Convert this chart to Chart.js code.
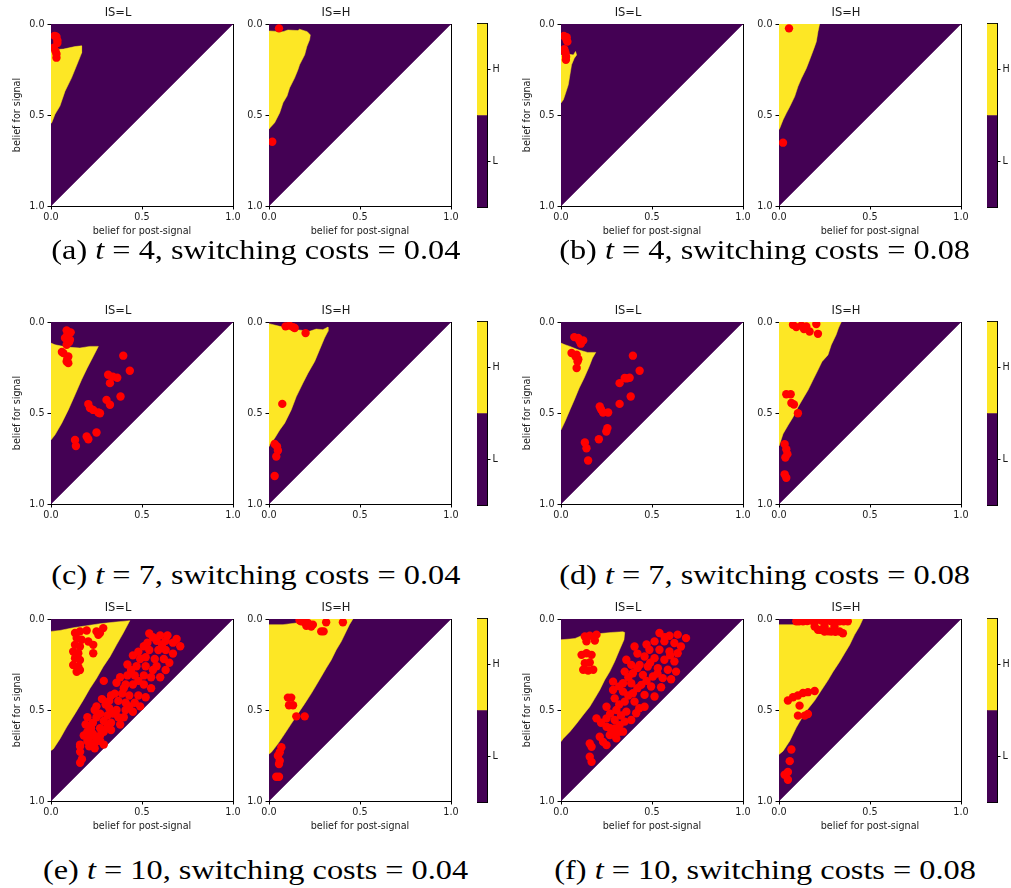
<!DOCTYPE html>
<html>
<head>
<meta charset="utf-8">
<script src="https://cdn.jsdelivr.net/npm/chart.js@4.4.1/dist/chart.umd.min.js"></script>
<style>
  body { margin: 0; background: #fff; width: 1011px; height: 888px; overflow: hidden; position: relative; }
  canvas { position: absolute; }
  .caption { position: absolute; font-family: "Liberation Serif", serif; font-size: 27px; line-height: 27px;
             white-space: nowrap; color: #000; transform-origin: center center; }
</style>
</head>
<body>
<script>
// axis ticks and labels
const beliefTicks = [0, 0.5, 1];
const beliefTickLabels = ['0.0', '0.5', '1.0'];
const stateTitles = ['IS=L', 'IS=H'];
const colorLevels = ['L', 'H'];
const captionLetters = ['a', 'b', 'c', 'd', 'e', 'f'];
const captionPeriods = [4, 4, 7, 7, 10, 10];
const captionCosts = ['0.04', '0.08', '0.04', '0.08', '0.04', '0.08'];

// belief space: [post-signal belief, signal belief]
const beliefTriangle = [[0, 0], [1, 0], [0, 1]];

// (a) t=4, cost 0.04
const aRegionL = [[0,0.142],[0.068,0.138],[0.132,0.124],[0.168,0.12],[0.168,0.16],[0.15,0.205],[0.113,0.296],[0.077,0.369],[0.049,0.451],[0.022,0.496],[0.004,0.542],[0,0.545]];
const aPointsL = [[0.02,0.065],[0.03,0.07],[0.035,0.09],[0.035,0.105],[0.015,0.13],[0.025,0.15],[0.03,0.165],[0.03,0.185]];
const aRegionH = [[0,0.038],[0.077,0.042],[0.104,0.033],[0.159,0.036],[0.168,0.029],[0.21,0.042],[0.227,0.06],[0.223,0.087],[0.208,0.124],[0.196,0.169],[0.168,0.224],[0.159,0.251],[0.141,0.296],[0.113,0.351],[0.099,0.396],[0.077,0.433],[0.059,0.487],[0.031,0.542],[0.007,0.569],[0,0.578]];
const aPointsH = [[0.055,0.024],[0.018,0.647]];

// (b) t=4, cost 0.08
const bRegionL = [[0,0.17],[0.031,0.164],[0.068,0.17],[0.08,0.151],[0.086,0.17],[0.073,0.188],[0.058,0.224],[0.049,0.279],[0.04,0.334],[0.025,0.38],[0.013,0.416],[0,0.434]];
const bPointsL = [[0.016,0.066],[0.031,0.073],[0.03,0.085],[0.035,0.097],[0.018,0.139],[0.02,0.15],[0.025,0.161],[0.028,0.18],[0.027,0.197]];
const bRegionH = [[0,0],[0.223,0],[0.214,0.042],[0.205,0.097],[0.192,0.134],[0.168,0.198],[0.15,0.244],[0.123,0.299],[0.104,0.344],[0.086,0.399],[0.059,0.454],[0.04,0.491],[0.022,0.527],[0.004,0.573],[0,0.579]];
const bPointsH = [[0.055,0.024],[0.022,0.652]];

// (c) t=7, cost 0.04
const cRegionL = [[0,0.116],[0.022,0.125],[0.086,0.138],[0.159,0.143],[0.214,0.134],[0.26,0.134],[0.232,0.189],[0.199,0.253],[0.168,0.317],[0.132,0.4],[0.095,0.483],[0.059,0.556],[0.022,0.62],[0,0.648]];
const cPointsL = [[0.086,0.046],[0.108,0.057],[0.09,0.07],[0.077,0.088],[0.104,0.097],[0.1,0.11],[0.086,0.125],[0.068,0.171],[0.06,0.165],[0.095,0.189],[0.09,0.2],[0.086,0.217],[0.095,0.226],
  [0.397,0.185],[0.433,0.268],[0.314,0.29],[0.34,0.3],[0.364,0.306],[0.324,0.336],[0.305,0.428],[0.324,0.455],[0.382,0.409],[0.205,0.451],[0.214,0.473],[0.232,0.483],[0.26,0.497],[0.269,0.501],[0.25,0.607],[0.132,0.648],[0.137,0.681],[0.196,0.629],[0.205,0.644]];
const cRegionH = [[0,0.009],[0.059,0.024],[0.15,0.042],[0.223,0.051],[0.259,0.039],[0.296,0.042],[0.324,0.028],[0.324,0.051],[0.305,0.088],[0.278,0.152],[0.251,0.217],[0.214,0.281],[0.186,0.336],[0.15,0.41],[0.122,0.483],[0.086,0.556],[0.059,0.593],[0.031,0.639],[0.004,0.675],[0,0.684]];
const cPointsH = [[0.091,0.024],[0.113,0.02],[0.132,0.028],[0.141,0.033],[0.201,0.061],[0.073,0.45],[0.031,0.67],[0.044,0.684],[0.049,0.706],[0.04,0.739],[0.031,0.846]];

// (d) t=7, cost 0.08
const dRegionL = [[0,0.116],[0.022,0.125],[0.049,0.134],[0.095,0.153],[0.146,0.167],[0.191,0.167],[0.173,0.198],[0.155,0.244],[0.127,0.308],[0.1,0.363],[0.073,0.428],[0.049,0.483],[0.022,0.547],[0,0.593]];
const dPointsL = [[0.073,0.083],[0.095,0.088],[0.1,0.1],[0.122,0.101],[0.109,0.119],[0.058,0.17],[0.086,0.18],[0.08,0.19],[0.095,0.204],[0.091,0.217],[0.086,0.253],
  [0.395,0.185],[0.432,0.268],[0.35,0.308],[0.36,0.31],[0.322,0.336],[0.377,0.306],[0.383,0.409],[0.322,0.45],[0.213,0.464],[0.22,0.48],[0.231,0.497],[0.259,0.497],[0.255,0.583],[0.249,0.602],[0.208,0.644],[0.131,0.662],[0.14,0.694],[0.149,0.761]];
const dRegionH = [[0,0],[0.342,0],[0.327,0.033],[0.314,0.07],[0.287,0.126],[0.269,0.181],[0.236,0.218],[0.214,0.264],[0.186,0.32],[0.159,0.375],[0.137,0.412],[0.104,0.468],[0.077,0.523],[0.049,0.569],[0.022,0.615],[0.004,0.671],[0,0.68]];
const dPointsH = [[0.077,0.015],[0.095,0.028],[0.123,0.02],[0.15,0.024],[0.137,0.039],[0.168,0.052],[0.205,0.011],[0.214,0.065],[0.04,0.397],[0.064,0.397],[0.068,0.445],[0.082,0.453],[0.104,0.501],[0.031,0.671],[0.04,0.699],[0.046,0.726],[0.035,0.745],[0.031,0.837],[0.04,0.856]];

// (e) t=10, cost 0.04
const eRegionL = [[0,0.068],[0.049,0.063],[0.123,0.048],[0.196,0.037],[0.269,0.026],[0.342,0.018],[0.433,0.009],[0.397,0.077],[0.36,0.142],[0.324,0.207],[0.287,0.262],[0.25,0.327],[0.214,0.382],[0.177,0.446],[0.132,0.52],[0.086,0.594],[0.049,0.659],[0.013,0.714],[0,0.723]];
const ePointsL = [[0.132,0.077],[0.159,0.068],[0.196,0.063],[0.141,0.105],[0.168,0.114],[0.132,0.142],[0.159,0.151],[0.122,0.179],[0.15,0.188],[0.132,0.216],[0.159,0.225],[0.122,0.253],[0.15,0.262],[0.141,0.29],[0.159,0.28],[0.25,0.068],[0.26,0.087],[0.287,0.05],[0.269,0.077],[0.232,0.142],[0.232,0.188],[0.205,0.124],
  [0.54,0.08],[0.60,0.09],[0.64,0.09],[0.69,0.11],[0.71,0.15],[0.67,0.13],[0.63,0.12],[0.58,0.12],[0.53,0.13],[0.51,0.15],[0.54,0.17],[0.59,0.17],[0.63,0.17],[0.67,0.19],[0.65,0.24],[0.62,0.22],[0.57,0.22],[0.52,0.21],[0.49,0.22],[0.45,0.20],[0.42,0.25],[0.47,0.26],[0.52,0.26],[0.58,0.26],[0.63,0.28],[0.60,0.32],[0.55,0.32],[0.51,0.31],[0.46,0.31],[0.42,0.31],[0.38,0.32],[0.36,0.35],[0.41,0.36],[0.45,0.36],[0.51,0.36],[0.55,0.38],[0.52,0.43],[0.48,0.42],[0.43,0.42],[0.39,0.41],[0.35,0.41],[0.32,0.45],[0.37,0.45],[0.41,0.46],[0.46,0.46],[0.49,0.48],[0.45,0.51],[0.41,0.50],[0.36,0.50],[0.32,0.49],[0.29,0.34],[0.28,0.44],[0.25,0.48],[0.27,0.52],[0.31,0.53],[0.37,0.54],[0.40,0.54],[0.38,0.58],[0.33,0.57],[0.29,0.56],[0.25,0.54],[0.24,0.50],[0.20,0.54],[0.22,0.60],[0.27,0.60],[0.31,0.59],[0.27,0.64],[0.23,0.63],[0.20,0.62],[0.27,0.67],[0.29,0.69],[0.24,0.68],[0.20,0.67],[0.18,0.64],[0.21,0.70],[0.24,0.71],[0.16,0.69],[0.16,0.70],[0.16,0.73],[0.17,0.77],[0.16,0.79],[0.21,0.65],[0.20,0.63],[0.33,0.61],
  [0.56,0.10],[0.61,0.14],[0.48,0.18],[0.56,0.28],[0.44,0.28],[0.48,0.34],[0.40,0.38],[0.33,0.42],[0.30,0.47],[0.43,0.48],[0.34,0.52],[0.29,0.62],[0.25,0.66],[0.23,0.57],[0.19,0.58]];
const eRegionH = [[0,0.031],[0.077,0.031],[0.15,0.022],[0.168,0],[0.461,0],[0.442,0.031],[0.424,0.068],[0.397,0.124],[0.369,0.17],[0.342,0.225],[0.314,0.271],[0.287,0.317],[0.26,0.363],[0.232,0.41],[0.196,0.465],[0.159,0.52],[0.122,0.576],[0.086,0.631],[0.049,0.686],[0.013,0.732],[0,0.742]];
const ePointsH = [[0.168,0.007],[0.177,0.013],[0.196,0.018],[0.214,0.022],[0.205,0.037],[0.232,0.041],[0.241,0.031],[0.287,0.068],[0.3,0.068],[0.314,0.018],[0.406,0.018],
  [0.104,0.432],[0.122,0.432],[0.11,0.474],[0.132,0.474],[0.15,0.535],[0.196,0.535],
  [0.068,0.705],[0.059,0.732],[0.049,0.751],[0.059,0.779],[0.055,0.797],[0.04,0.867],[0.055,0.867]];

// (f) t=10, cost 0.08
const fRegionL = [[0,0.114],[0.049,0.11],[0.077,0.107],[0.113,0.092],[0.186,0.083],[0.277,0.074],[0.34,0.07],[0.35,0.074],[0.346,0.114],[0.322,0.169],[0.295,0.233],[0.268,0.289],[0.24,0.335],[0.213,0.39],[0.186,0.436],[0.158,0.482],[0.122,0.527],[0.086,0.574],[0.049,0.619],[0.013,0.656],[0,0.674]];
const fPointsL = [[0.131,0.096],[0.158,0.092],[0.195,0.086],[0.14,0.123],[0.186,0.118],[0.113,0.197],[0.14,0.188],[0.168,0.197],[0.131,0.243],[0.158,0.239],[0.122,0.279],[0.149,0.283],[0.177,0.279],
  [0.541,0.077],[0.596,0.092],[0.641,0.086],[0.687,0.105],[0.514,0.123],[0.568,0.123],[0.623,0.132],[0.659,0.151],[0.404,0.151],[0.486,0.169],[0.541,0.169],[0.596,0.178],[0.641,0.188],[0.459,0.206],[0.514,0.215],[0.568,0.224],[0.623,0.233],[0.359,0.224],[0.386,0.252],[0.432,0.252],[0.477,0.261],[0.532,0.27],[0.587,0.279],[0.632,0.289],[0.35,0.289],[0.395,0.298],[0.45,0.307],[0.505,0.316],[0.559,0.325],[0.605,0.331],[0.286,0.344],[0.341,0.353],[0.386,0.353],[0.441,0.362],[0.495,0.371],[0.55,0.375],[0.286,0.39],[0.341,0.399],[0.395,0.408],[0.459,0.417],[0.514,0.426],[0.295,0.436],[0.35,0.454],[0.404,0.454],[0.459,0.482],[0.25,0.482],[0.304,0.5],[0.359,0.509],[0.413,0.518],[0.195,0.546],[0.25,0.546],[0.295,0.555],[0.35,0.564],[0.386,0.555],[0.25,0.592],[0.295,0.601],[0.341,0.619],[0.268,0.638],[0.304,0.656],[0.213,0.647],[0.231,0.675],[0.25,0.693],[0.158,0.684],[0.168,0.702],[0.158,0.757],[0.168,0.785],[0.286,0.629],[0.322,0.583],
  [0.57,0.1],[0.47,0.14],[0.42,0.19],[0.6,0.2],[0.49,0.24],[0.42,0.27],[0.53,0.3],[0.37,0.32],[0.47,0.34],[0.32,0.37],[0.42,0.38],[0.37,0.42],[0.32,0.47],[0.43,0.49],[0.27,0.52],[0.33,0.53],[0.32,0.62],[0.27,0.6],[0.22,0.57]];
const fRegionH = [[0,0.031],[0.077,0.031],[0.082,0],[0.461,0],[0.442,0.041],[0.415,0.087],[0.388,0.143],[0.36,0.189],[0.333,0.235],[0.296,0.291],[0.269,0.337],[0.232,0.393],[0.196,0.448],[0.159,0.494],[0.122,0.55],[0.095,0.596],[0.059,0.67],[0.022,0.726],[0,0.744]];
const fPointsH = [[0.095,0.013],[0.11,0.012],[0.132,0.013],[0.155,0.011],[0.177,0.009],[0.2,0.01],[0.232,0.009],[0.26,0.01],[0.287,0.013],[0.31,0.012],[0.333,0.013],[0.355,0.013],[0.378,0.013],
  [0.196,0.041],[0.25,0.04],[0.305,0.041],[0.214,0.059],[0.23,0.06],[0.25,0.069],[0.27,0.068],[0.287,0.069],[0.31,0.07],[0.333,0.069],[0.351,0.078],
  [0.049,0.448],[0.077,0.43],[0.104,0.42],[0.132,0.407],[0.159,0.402],[0.196,0.396],[0.113,0.476],[0.104,0.531],[0.141,0.531],[0.159,0.522],
  [0.068,0.717],[0.059,0.781],[0.049,0.841],[0.031,0.856],[0.049,0.883]];

const viridisDark = '#440154';
const viridisLight = '#fde725';
const inkColor = '#1a1a1a';

Chart.defaults.font.family = '"DejaVu Sans", sans-serif';
Chart.defaults.color = inkColor;

function toXY(pairs) {
  return pairs.map(p => ({ x: p[0], y: p[1] }));
}

function addCanvas(left, top, w, h) {
  const c = document.createElement('canvas');
  c.width = w;
  c.height = h;
  c.style.left = left + 'px';
  c.style.top = top + 'px';
  c.style.width = w + 'px';
  c.style.height = h + 'px';
  document.body.appendChild(c);
  return c.getContext('2d');
}

function beliefAxis(position, label, showLabel) {
  const vertical = position === 'left';
  return {
    type: 'linear',
    position: position,
    reverse: vertical,
    min: 0,
    max: 1,
    afterBuildTicks: s => { s.ticks = beliefTicks.map(v => ({ value: v })); },
    afterFit: s => { if (vertical) s.width = 48; else s.height = 32; },
    ticks: {
      callback: (v, i) => beliefTickLabels[i],
      font: { size: 9.6 },
      padding: vertical ? 3 : 2,
      maxRotation: 0,
      autoSkip: false,
      color: inkColor
    },
    grid: { drawOnChartArea: false, drawTicks: true, tickLength: 3.5, tickColor: '#000', tickWidth: 1 },
    border: { display: true, color: '#000', width: 1 },
    title: {
      display: showLabel,
      text: label,
      color: inkColor,
      font: { size: 9.6 },
      padding: vertical ? { top: 9, bottom: 0 } : { top: 0, bottom: 1 }
    }
  };
}

function frameAxis(position) {
  return {
    type: 'linear',
    position: position,
    min: 0,
    max: 1,
    ticks: { display: false },
    grid: { display: false, drawTicks: false },
    border: { display: true, color: '#000', width: 1 },
    afterFit: s => { if (s.isHorizontal()) s.height = 0; else s.width = 0; }
  };
}

function beliefPlot(plotLeft, plotTop, title, region, points, showYLabel, showXLabel) {
  const ctx = addCanvas(plotLeft - 48, plotTop - 18, 242, 232);
  new Chart(ctx, {
    type: 'scatter',
    data: {
      datasets: [
        { data: toXY(points), backgroundColor: '#ff0000', pointRadius: 4.2, borderWidth: 0, clip: 0, order: 0 },
        { data: toXY(region), showLine: true, fill: 'shape', backgroundColor: viridisLight, borderColor: viridisLight,
          borderWidth: 0.5, pointRadius: 0, order: 1 },
        { data: toXY(beliefTriangle), showLine: true, fill: 'shape', backgroundColor: viridisDark, borderColor: viridisDark,
          borderWidth: 0.5, pointRadius: 0, order: 2 }
      ]
    },
    options: {
      responsive: false,
      animation: false,
      events: [],
      layout: { padding: { left: 0, top: 0, right: 12, bottom: 0 } },
      plugins: {
        legend: { display: false },
        tooltip: { enabled: false },
        title: { display: true, text: title, color: inkColor, font: { size: 11.5, weight: 'normal' }, padding: { top: 0, bottom: 4.2 } }
      },
      scales: {
        x: beliefAxis('bottom', 'belief for post-signal', showXLabel),
        y: beliefAxis('left', 'belief for signal', showYLabel),
        xTop: frameAxis('top'),
        yRight: frameAxis('right')
      }
    }
  });
}

function colorBar(barLeft, barTop) {
  const ctx = addCanvas(barLeft - 2, barTop - 2, 34, 199);
  new Chart(ctx, {
    type: 'bar',
    data: {
      labels: [''],
      datasets: colorLevels.map((lvl, i) => ({
        label: lvl,
        data: [1],
        backgroundColor: i === 0 ? viridisDark : viridisLight,
        borderWidth: 0,
        categoryPercentage: 1,
        barPercentage: 1
      }))
    },
    options: {
      responsive: false,
      animation: false,
      events: [],
      layout: { padding: { left: 2, top: 2, right: 0, bottom: 2 } },
      plugins: { legend: { display: false }, tooltip: { enabled: false } },
      scales: {
        x: {
          stacked: true,
          ticks: { display: false },
          grid: { display: false, drawTicks: false },
          border: { display: true, color: '#000', width: 1 },
          afterFit: s => { s.height = 0; }
        },
        xTop: {
          type: 'category', labels: [''], position: 'top',
          ticks: { display: false },
          grid: { display: false, drawTicks: false },
          border: { display: true, color: '#000', width: 1 },
          afterFit: s => { s.height = 0; }
        },
        y: {
          stacked: true,
          position: 'right',
          min: 0,
          max: colorLevels.length,
          afterBuildTicks: s => { s.ticks = colorLevels.map((l, i) => ({ value: i + 0.5 })); },
          afterFit: s => { s.width = 22; },
          ticks: { callback: (v, i) => colorLevels[i], font: { size: 9.6 }, padding: 2, color: inkColor },
          grid: { drawOnChartArea: false, drawTicks: true, tickLength: 3.5, tickColor: '#000' },
          border: { display: true, color: '#000', width: 1 }
        },
        yLeft: {
          type: 'linear', position: 'left', min: 0, max: colorLevels.length,
          ticks: { display: false },
          grid: { display: false, drawTicks: false },
          border: { display: true, color: '#000', width: 1 },
          afterFit: s => { s.width = 0; }
        }
      }
    }
  });
}

function caption(centerX, centerY, idx) {
  const d = document.createElement('div');
  d.className = 'caption';
  d.innerHTML = '(' + captionLetters[idx] + ') <i>t</i> = ' + captionPeriods[idx] +
    ', switching costs = ' + captionCosts[idx];
  document.body.appendChild(d);
  const w = d.getBoundingClientRect().width;
  d.style.left = (centerX - w / 2) + 'px';
  d.style.top = (centerY - 13.5) + 'px';
  return d;
}

// layout of the 3x2 grid of panels
const rowTops = [24, 322, 619];
const pairLefts = [[51, 269], [561, 779]];
const barLefts = [477, 987];
const captionXs = [256, 765];
const captionYs = [250, 575, 870];
const regions = [[aRegionL, aRegionH], [bRegionL, bRegionH], [cRegionL, cRegionH], [dRegionL, dRegionH], [eRegionL, eRegionH], [fRegionL, fRegionH]];
const points = [[aPointsL, aPointsH], [bPointsL, bPointsH], [cPointsL, cPointsH], [dPointsL, dPointsH], [ePointsL, ePointsH], [fPointsL, fPointsH]];

const captionDivs = [];
for (let r = 0; r < 3; r++) {
  for (let c = 0; c < 2; c++) {
    const k = r * 2 + c;
    const showX = r !== 1;
    beliefPlot(pairLefts[c][0], rowTops[r], stateTitles[0], regions[k][0], points[k][0], true, showX);
    beliefPlot(pairLefts[c][1], rowTops[r], stateTitles[1], regions[k][1], points[k][1], false, showX);
    colorBar(barLefts[c], rowTops[r] - 6);
    captionDivs.push(caption(captionXs[c], captionYs[r], k));
  }
}

// stretch captions to the width of the Computer Modern original
const capScale = 409 / captionDivs[0].getBoundingClientRect().width;
captionDivs.forEach(d => { d.style.transform = 'scaleX(' + capScale.toFixed(3) + ')'; });
</script>
</body>
</html>
